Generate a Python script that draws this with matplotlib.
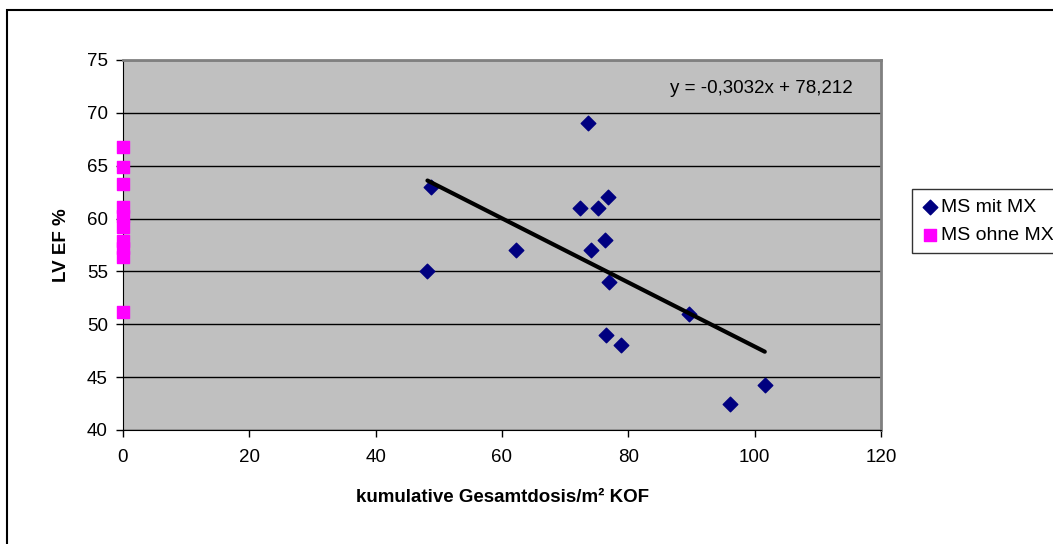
import numpy as np
import matplotlib
matplotlib.use("Agg")
import matplotlib.pyplot as plt
from matplotlib.patches import Rectangle

plt.rcParams['font.family'] = ['Liberation Sans', 'DejaVu Sans']

# MS mit MX: cumulative dose vs LV EF
mit_x = [48.2, 48.8, 62.2, 72.3, 73.6, 74.1, 75.2, 76.3, 76.5, 76.8, 77.0, 78.9, 89.6, 96.1, 101.6]
mit_y = [55.0, 63.0, 57.0, 61.0, 69.0, 57.0, 61.0, 58.0, 49.0, 62.0, 54.0, 48.0, 51.0, 42.5, 44.3]

# MS ohne MX: all at dose 0
ohne_x = [0] * 10
ohne_y = [66.8, 64.9, 63.3, 61.1, 60.2, 59.2, 57.9, 57.2, 56.4, 51.2]

slope = -0.3032
intercept = 78.212
eq_text = "y = -0,3032x + 78,212"

fig = plt.figure(figsize=(10.53, 5.44), dpi=100)
ax = fig.add_axes([123/1053, 1 - 430/544, (881 - 123)/1053, (430 - 60)/544])
ax.set_facecolor('#C0C0C0')

ax.scatter(mit_x, mit_y, marker='D', s=55, color='#000080', label='MS mit MX', zorder=3)
ax.scatter(ohne_x, ohne_y, marker='s', s=75, color='#FF00FF', label='MS ohne MX',
           zorder=3, clip_on=False)

xs = np.array([min(mit_x), max(mit_x)])
ax.plot(xs, slope * xs + intercept, color='black', lw=3, solid_capstyle='round', zorder=4)

ax.text(86.6, 72.35, eq_text, ha='left', va='center', fontsize=13.5)

ax.set_xlim(0, 120)
ax.set_ylim(40, 75)
ax.set_xticks(range(0, 121, 20))
ax.set_yticks(range(40, 76, 5))
ax.tick_params(labelsize=13.5, direction='out', length=5, width=1)
ax.tick_params(axis='x', pad=9)
ax.tick_params(axis='y', pad=6)
ax.yaxis.grid(True, color='black', lw=1)
ax.set_axisbelow(True)
for s in ['left', 'bottom']:
    ax.spines[s].set_color('black')
for s in ['top', 'right']:
    ax.spines[s].set_color('#808080')
    ax.spines[s].set_linewidth(2)

ax.set_xlabel('kumulative Gesamtdosis/m² KOF', fontsize=13.5, fontweight='bold', labelpad=16)
ax.set_ylabel('LV EF %', fontsize=13.5, fontweight='bold', labelpad=12)

leg = fig.legend(loc='upper left', bbox_to_anchor=(912/1053, 1 - 189/544),
                 fontsize=14, frameon=True, fancybox=False, handletextpad=0.1,
                 handlelength=0.9, borderpad=0.5, labelspacing=0.5, borderaxespad=0)
leg.get_frame().set_edgecolor('black')
leg.get_frame().set_linewidth(1)

fig.patches.append(Rectangle((6.5/1053, -0.2), 1.2, 1.2 - 10/544,
                             transform=fig.transFigure, fill=False,
                             edgecolor='black', lw=1.5, clip_on=False))

fig.savefig('out.png', dpi=100)
